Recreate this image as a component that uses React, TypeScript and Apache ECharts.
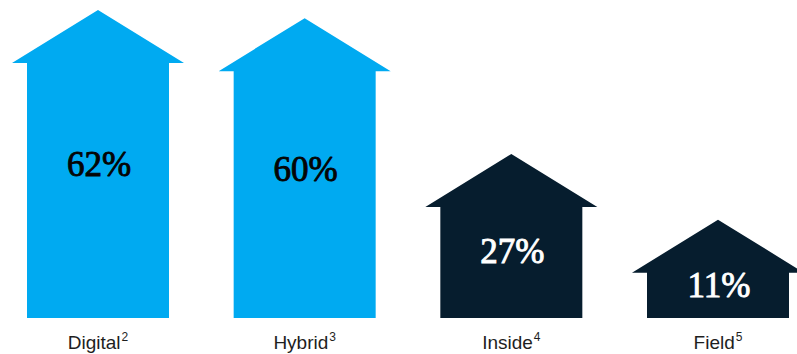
import React, { useEffect, useRef } from "react";
import * as echarts from "echarts";

const categories = ["Digital", "Hybrid", "Inside", "Field"];
const footnotes = ["2", "3", "4", "5"];
const shares = [62, 60, 27, 11];

const BLUE = "#00AAF1";
const NAVY = "#061D2E";
const fills = [BLUE, BLUE, NAVY, NAVY];
const labelColors = ["#050505", "#050505", "#FFFFFF", "#FFFFFF"];

export default function App() {
  const ref = useRef<HTMLDivElement>(null);
  useEffect(() => {
    document.body.style.margin = "0";
    const chart = echarts.init(ref.current!, null, { renderer: "svg" });
    const option: any = {
      animation: false,
      grid: { left: 98, right: 79, top: 30, bottom: 36 },
      xAxis: {
        type: "value",
        min: 0,
        max: 3,
        interval: 1,
        splitLine: { show: false },
        axisLine: { show: false },
        axisTick: { show: false },
        axisLabel: {
          margin: 13,
          formatter: (v: number) => `{b|${categories[v]}}{s|${footnotes[v]}}`,
          rich: {
            b: { fontFamily: "Liberation Sans", fontSize: 19, color: "#1E1E1E", lineHeight: 22 },
            s: {
              fontFamily: "Liberation Sans",
              fontSize: 12,
              color: "#1E1E1E",
              verticalAlign: "bottom",
              lineHeight: 12,
              padding: [0, 0, 10, 1],
            },
          },
        },
      },
      yAxis: { type: "value", min: 0, max: 70, show: false, splitLine: { show: false } },
      series: [
        {
          type: "custom",
          data: shares.map((v, i) => [i, v]),
          clip: false,
          renderItem: (params: any, api: any) => {
            const i = api.value(0);
            const v = api.value(1);
            const [cx, top] = api.coord([i, v]);
            const [, bottom] = api.coord([i, 0]);
            const bodyHalf = 71;
            const headHalf = 86;
            const headH = 53;
            const [, ly0] = api.coord([i, v * 0.6]);
            const ly = Math.min(ly0, bottom - 33);
            return {
              type: "group",
              children: [
                {
                  type: "polygon",
                  shape: {
                    points: [
                      [cx - bodyHalf, bottom],
                      [cx - bodyHalf, top],
                      [cx - headHalf, top],
                      [cx, top - headH],
                      [cx + headHalf, top],
                      [cx + bodyHalf, top],
                      [cx + bodyHalf, bottom],
                    ],
                  },
                  style: { fill: fills[i] },
                },
                {
                  type: "text",
                  x: cx + 1,
                  y: ly,
                  style: {
                    text: `${shares[i]}%`,
                    fill: labelColors[i],
                    font: "35px 'Liberation Serif'",
                    stroke: labelColors[i],
                    lineWidth: 0.9,
                    align: "center",
                    verticalAlign: "middle",
                  },
                },
              ],
            };
          },
        },
      ],
    };
    chart.setOption(option);
    return () => chart.dispose();
  }, []);
  return <div ref={ref} style={{ width: 797, height: 354 }} />;
}
